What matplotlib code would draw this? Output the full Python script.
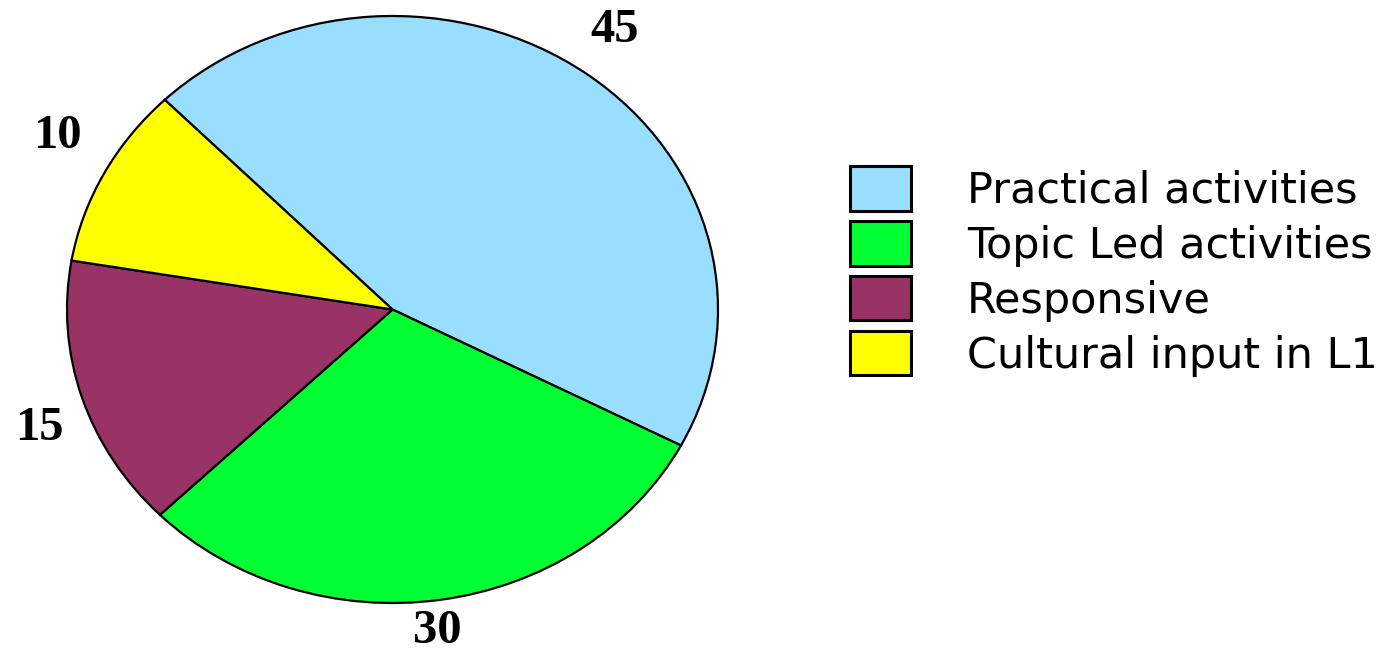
import matplotlib
matplotlib.use("Agg")
import matplotlib.pyplot as plt
import numpy as np

categories = ["Practical activities", "Topic Led activities", "Responsive", "Cultural input in L1"]
values = [45, 30, 15, 10]
value_labels = ["45", "30", "15", "10"]
colors = ["#99DDFF", "#00FF33", "#993366", "#FFFF00"]
# label placement (distance from centre, angular nudge in degrees)
label_radius = [1.172, 1.104, 1.156, 1.186]
label_shift = [0.9, -1.3, 3.0, -2.3]

W, H = 1391, 654
fig = plt.figure(figsize=(W / 100, H / 100), dpi=100)
# axes covering the (elliptical) pie
ax = fig.add_axes([67 / W, (H - 603) / H, 651 / W, 587 / H])
wedges, _ = ax.pie(values, colors=colors, startangle=134.4, counterclock=False,
                   wedgeprops=dict(edgecolor="black", linewidth=1.6))
ax.set_aspect("auto")
ax.set_xlim(-1.0, 1.0)
ax.set_ylim(-1.0, 1.0)
ax.axis("off")

for w, lab, r, s in zip(wedges, value_labels, label_radius, label_shift):
    ang = np.deg2rad((w.theta1 + w.theta2) / 2 + s)
    ax.text(r * np.cos(ang), r * np.sin(ang), lab, ha="center", va="center",
            fontsize=35, fontweight="bold", family="Liberation Serif")

leg = fig.legend(wedges, categories, loc="upper left",
                 bbox_to_anchor=(850 / W, 1 - 166 / H), frameon=False,
                 prop=dict(family="DejaVu Sans", size=31),
                 handlelength=1.42, handleheight=1.22, handletextpad=1.3,
                 labelspacing=0.21, borderpad=0, borderaxespad=0)
for h in leg.legend_handles:
    h.set_linewidth(2.2)

fig.savefig("out.png", dpi=100)
